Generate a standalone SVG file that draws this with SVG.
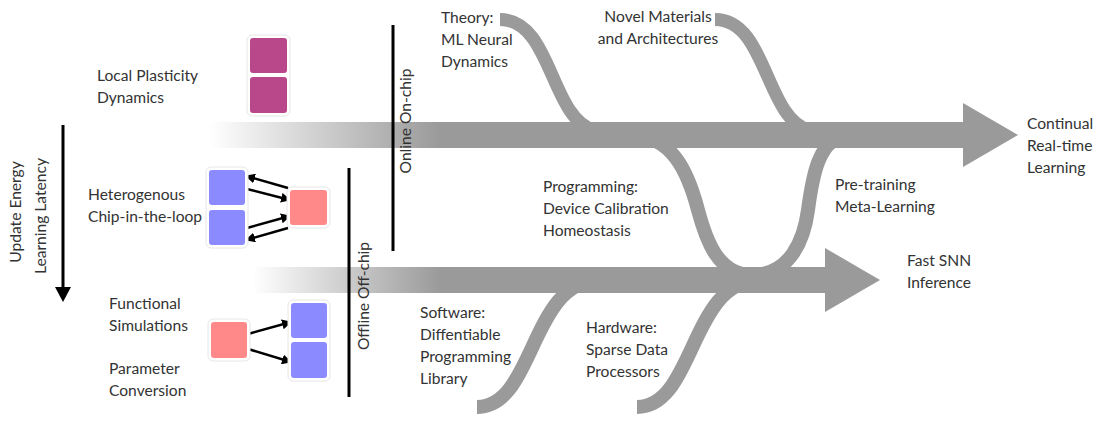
<svg xmlns="http://www.w3.org/2000/svg" width="1099" height="421" viewBox="0 0 1099 421">
<style>
text{font-family:Lato,"Open Sans","Liberation Sans",sans-serif;font-size:15.6px;fill:#333}
.band{fill:none;stroke:#9a9a9a}
.vl{stroke:#000;stroke-width:3;fill:none}
.sq-m{fill:#b8488a}
.sq-b{fill:#8b8bff}
.sq-r{fill:#ff8888}
.halo{fill:#fff;stroke:#e6e6e6;stroke-width:1}
.ar{stroke:#000;stroke-width:2.5;fill:none;marker-end:url(#ah)}
</style>
<defs>
<linearGradient id="g1" gradientUnits="userSpaceOnUse" x1="210" y1="0" x2="440" y2="0">
<stop offset="0" stop-color="#9a9a9a" stop-opacity="0"/>
<stop offset="1" stop-color="#9a9a9a"/>
</linearGradient>
<linearGradient id="g2" gradientUnits="userSpaceOnUse" x1="253" y1="0" x2="440" y2="0">
<stop offset="0" stop-color="#9a9a9a" stop-opacity="0"/>
<stop offset="1" stop-color="#9a9a9a"/>
</linearGradient>
<marker id="ah" viewBox="0 0 10 10" refX="9" refY="5" markerWidth="4" markerHeight="4" orient="auto" markerUnits="strokeWidth">
<path d="M0,0 L10,5 L0,10 z" fill="#000"/>
</marker>
</defs>
<rect width="1099" height="421" fill="#fff"/>

<g id="connectors">
<!-- main top arrow -->
<rect x="210" y="122" width="755" height="26" fill="url(#g1)"/>
<polygon points="963,103 1018,135 963,167" fill="#9a9a9a"/>
<!-- main bottom arrow -->
<rect x="253" y="267" width="575" height="26" fill="url(#g2)"/>
<polygon points="825,248 880,280 825,312" fill="#9a9a9a"/>
<!-- feeder curves -->
<path class="band" stroke-width="13" d="M500,19.5 C552,19.5 550,118 594,130"/>
<path class="band" stroke-width="13" d="M715,19.5 C767,19.5 765,118 809,130"/>
<path class="band" stroke-width="14" d="M630,135 C672,135 688,172 698,210 C706,240 718,275 752,275"/>
<path class="band" stroke-width="14" d="M850,135 C818,135 812,180 808,210 C804,240 790,275 752,275"/>
<path class="band" stroke-width="14" d="M477,407 C535,407 530,280 600,280"/>
<path class="band" stroke-width="14" d="M637,407 C695,407 690,280 760,280"/>
<!-- vertical lines -->
<line class="vl" x1="393" y1="25" x2="393" y2="251"/>
<line class="vl" x1="349" y1="168" x2="349" y2="397"/>
<line class="vl" x1="63" y1="125" x2="63" y2="290"/>
<polygon points="55,287 71,287 63,302" fill="#000"/>
<!-- small arrows -->
<line class="ar" x1="288" y1="188" x2="246" y2="176"/>
<line class="ar" x1="247" y1="189" x2="290" y2="200"/>
<line class="ar" x1="247" y1="228" x2="290" y2="216"/>
<line class="ar" x1="288" y1="228" x2="246" y2="240"/>
<line class="ar" x1="248" y1="334" x2="291" y2="322"/>
<line class="ar" x1="248" y1="349" x2="291" y2="362"/>
</g>

<g id="axis-label">
<text transform="translate(21,212) rotate(-90)" text-anchor="middle">Update Energy</text>
<text transform="translate(46,216) rotate(-90)" text-anchor="middle">Learning Latency</text>
</g>
<g id="online-label"><text transform="translate(411,121) rotate(-90)" text-anchor="middle">Online On-chip</text></g>
<g id="offline-label"><text transform="translate(369,296) rotate(-90)" text-anchor="middle">Offline Off-chip</text></g>

<g id="local-plasticity">
<rect class="halo" x="247" y="35" width="43" height="81" rx="5"/>
<rect class="sq-m" x="250" y="38" width="37" height="35" rx="3"/>
<rect class="sq-m" x="250" y="77" width="37" height="36" rx="3"/>
<text x="97" y="81">Local Plasticity</text>
<text x="97" y="103">Dynamics</text>
</g>

<g id="chip-in-the-loop">
<rect class="halo" x="206" y="167" width="42" height="81" rx="5"/>
<rect class="sq-b" x="209" y="170" width="36" height="35" rx="3"/>
<rect class="sq-b" x="209" y="210" width="36" height="35" rx="3"/>
<rect class="halo" x="287" y="187" width="43" height="41" rx="5"/>
<rect class="sq-r" x="290" y="190" width="37" height="35" rx="3"/>
<text x="88" y="200">Heterogenous</text>
<text x="88" y="222">Chip-in-the-loop</text>
</g>

<g id="functional-simulations">
<rect class="halo" x="208" y="319" width="42" height="42" rx="5"/>
<rect class="sq-r" x="211" y="322" width="36" height="36" rx="3"/>
<rect class="halo" x="288" y="300" width="42" height="81" rx="5"/>
<rect class="sq-b" x="291" y="303" width="36" height="35" rx="3"/>
<rect class="sq-b" x="291" y="342" width="36" height="36" rx="3"/>
<text x="109" y="309">Functional</text>
<text x="109" y="331">Simulations</text>
<text x="109" y="374">Parameter</text>
<text x="109" y="396">Conversion</text>
</g>

<g id="theory"><text x="441" y="23">Theory:</text><text x="441" y="45">ML Neural</text><text x="441" y="67">Dynamics</text></g>
<g id="novel-materials"><text x="658" y="22" text-anchor="middle">Novel Materials</text><text x="658" y="44" text-anchor="middle">and Architectures</text></g>
<g id="programming"><text x="543" y="192">Programming:</text><text x="543" y="214">Device Calibration</text><text x="543" y="236">Homeostasis</text></g>
<g id="pre-training"><text x="835" y="190">Pre-training</text><text x="835" y="212">Meta-Learning</text></g>
<g id="continual"><text x="1027" y="129">Continual</text><text x="1027" y="151">Real-time</text><text x="1027" y="173">Learning</text></g>
<g id="fast-snn"><text x="907" y="266">Fast SNN</text><text x="907" y="288">Inference</text></g>
<g id="software"><text x="420" y="318">Software:</text><text x="420" y="340">Diffentiable</text><text x="420" y="362">Programming</text><text x="420" y="384">Library</text></g>
<g id="hardware"><text x="586" y="333">Hardware:</text><text x="586" y="355">Sparse Data</text><text x="586" y="377">Processors</text></g>
</svg>
